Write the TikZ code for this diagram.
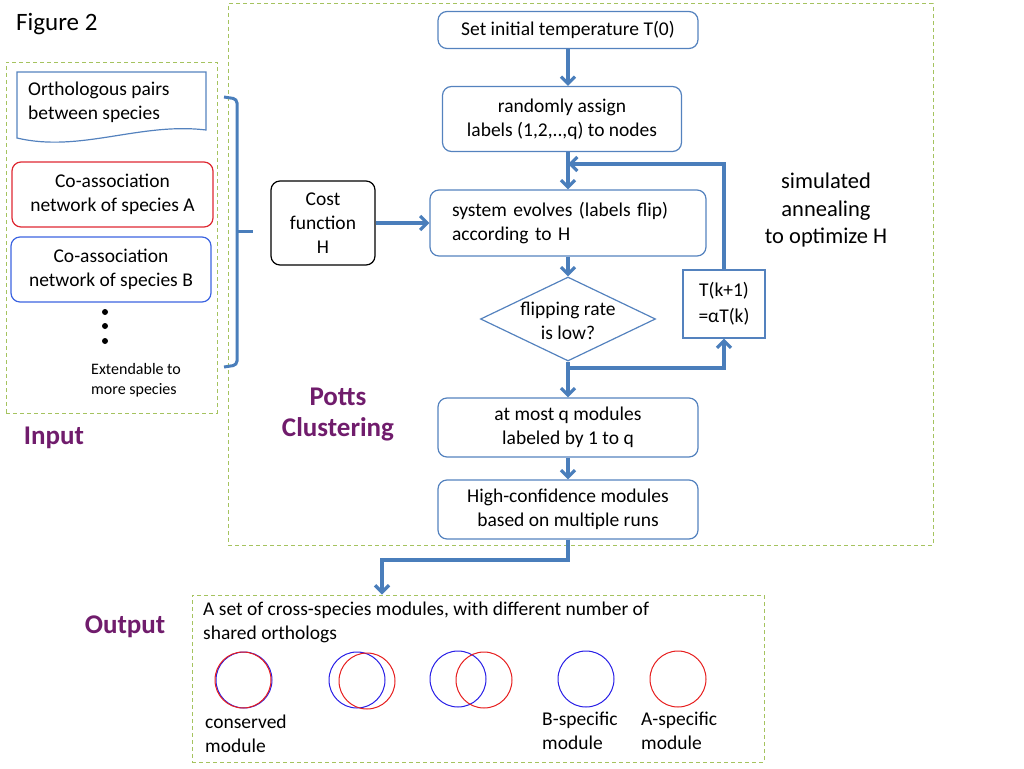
\documentclass[tikz,border=0pt]{standalone}
\usepackage{fontspec}
\setmainfont{Carlito}
\usetikzlibrary{shapes.geometric,arrows.meta,positioning}
\definecolor{flowblue}{RGB}{74,126,187}
\definecolor{boxblue}{RGB}{84,130,190}
\definecolor{dashgreen}{RGB}{165,195,95}
\definecolor{potts}{RGB}{112,28,108}
\definecolor{redbox}{RGB}{222,40,50}
\definecolor{bluebox}{RGB}{60,100,225}
\definecolor{cblue}{RGB}{40,30,230}
\definecolor{cred}{RGB}{230,30,30}

\begin{document}
\begin{tikzpicture}[x=1pt, y=-1pt,
  block/.style={rectangle, rounded corners=9pt, draw=boxblue, line width=1.2pt, align=center, minimum width=260pt, minimum height=59pt, inner sep=2pt},
  decision/.style={diamond, draw=boxblue, line width=1.2pt, aspect=2.08, minimum width=175pt, minimum height=84pt, inner sep=0pt},
  frame/.style={draw=dashgreen, dashed, dash pattern=on 4pt off 3pt, line width=1pt, inner sep=0pt},
  flow/.style={draw=flowblue, line width=3.2pt, -{Straight Barb[length=7pt, width=14pt]}},
  title/.style={font=\fontsize{27}{31}\selectfont\bfseries, text=potts, align=center},
  circ/.style={circle, draw, line width=1pt, minimum size=56pt, inner sep=0pt}]
  \fontsize{19.5}{24}\selectfont
  \useasboundingbox (0,0) rectangle (1024,768);

  % frames
  \node[frame, minimum width=211pt, minimum height=351pt] (inbox) at (111.5,237.5) {};
  \node[frame, minimum width=705pt, minimum height=541pt] (pottsbox) at (580.5,274.5) {};
  \node[frame, minimum width=572pt, minimum height=167pt] (outbox) at (478,678.5) {};

  \node[font=\fontsize{25}{30}\selectfont, anchor=west, inner sep=0pt] (fig) at (16,24) {Figure 2};

  % input side
  \draw[boxblue, line width=1.2pt] (17,72) -- (206,72) -- (206,130) .. controls (140,122) and (80,153) .. (17,138) -- cycle;
  \node[anchor=west, align=left, inner sep=0pt] (orth) at (28,102) {Orthologous pairs\\between species};
  \node[block, draw=redbox, minimum width=201pt, minimum height=65pt] (netA) at (112.5,194.5) {Co-association\\network of species A};
  \node[block, draw=bluebox, minimum width=200pt, minimum height=65pt] (netB) at (111,269.5) {Co-association\\network of species B};
  \foreach \y in {312,326,341}
    \fill (105,\y) circle (3pt);
  \node[anchor=west, align=left, inner sep=0pt, font=\fontsize{16}{20}\selectfont] (ext) at (91,380) {Extendable to\\more species};
  \draw[flowblue, line width=3pt, rounded corners=4pt] (224,97) -- (237,99) -- (237,365) -- (224,367);
  \draw[flowblue, line width=3pt] (237,231) -- (253,231);
  \node[title] (input) at (54,438) {Input};

  % Potts clustering
  \node[block, minimum height=37pt] (init) at (568,30) {Set initial temperature T(0)};
  \node[block, minimum width=239pt, minimum height=65pt] (rand) at (562,119) {randomly assign\\labels (1,2,..,q) to nodes};
  \node[block, minimum width=276pt, minimum height=66pt, text width=232pt, inner xsep=22pt, align=left] (sys) at (568,223) {system evolves (labels flip)\\according to H};
  \node[block, draw=black, minimum width=104pt, minimum height=84pt] (cost) at (323,223) {Cost\\function\\H};
  \node[decision, label={[align=center, yshift=-2pt]center:{flipping rate\\is low?}}] (dec) at (568,319) {};
  \node[rectangle, draw=boxblue, line width=1.2pt, minimum width=82pt, minimum height=68pt, align=center, font=\fontsize{19.5}{26}\selectfont] (tk) at (724,304) {T(k+1)\\=αT(k)};
  \node[block] (most) at (568,427.5) {at most q modules\\labeled by 1 to q};
  \node[block] (conf) at (568,509.5) {High-confidence modules\\based on multiple runs};
  \node[font=\fontsize{22.5}{27.5}\selectfont, align=center] (anneal) at (826,210) {simulated\\annealing\\to optimize H};
  \node[title] (potts) at (338,415) {Potts\\Clustering};

  \coordinate (join) at (568,164);
  \coordinate (split) at (568,368);
  \coordinate (bend) at (382,560);
  \draw[flow] (init.south) -- (init.south |- rand.north);
  \draw[flow] (sys.north |- rand.south) -- (sys.north);
  \draw[flow] (tk.north) |- (join);
  \draw[flow] (cost) -- (sys);
  \draw[flow] (sys) -- (dec);
  \draw[flow] (dec) -- (most);
  \draw[flow] (split) -| (tk.south);
  \draw[flow] (most) -- (conf);
  \draw[flow] (conf.south) |- (bend) -- (bend |- outbox.north);

  % output
  \node[title] (output) at (125,627) {Output};
  \node[anchor=west, align=left, inner sep=0pt] (outtext) at (203,622) {A set of cross-species modules, with different number of\\shared orthologs};
  \node[circ, draw=cblue] (consB) at (244,680) {};
  \node[circ, draw=cred] (consA) at (243,680) {};
  \node[circ, draw=cblue] (partB) at (357,680) {};
  \node[circ, draw=cred] (partA) at (367,681) {};
  \node[circ, draw=cblue] (fewB) at (458,679) {};
  \node[circ, draw=cred] (fewA) at (484,680) {};
  \node[circ, draw=cblue] (onlyB) at (586,679) {};
  \node[circ, draw=cred] (onlyA) at (678,679) {};
  \node[anchor=west, align=left, inner sep=0pt] (lcons) at (205,734) {conserved\\module};
  \node[anchor=west, align=left, inner sep=0pt] (lonlyB) at (542,731) {B-specific\\module};
  \node[anchor=west, align=left, inner sep=0pt] (lonlyA) at (641,731) {A-specific\\module};
\end{tikzpicture}
\end{document}
